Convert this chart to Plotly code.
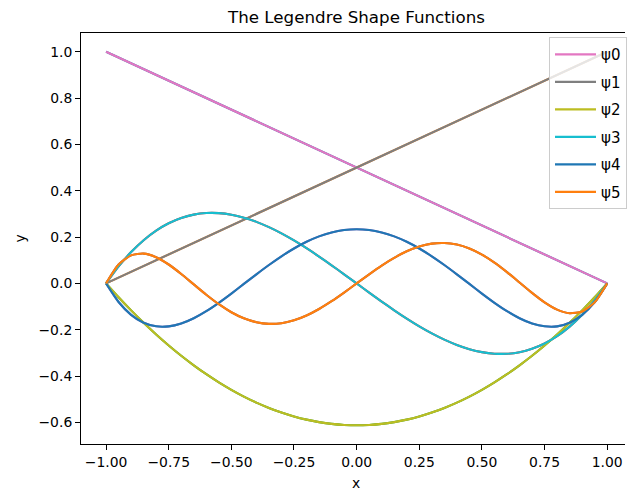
import plotly.graph_objects as go

# Sample grid on [-1, 1]
x = [-1.00, -0.95, -0.90, -0.85, -0.80, -0.75, -0.70, -0.65, -0.60, -0.55,
     -0.50, -0.45, -0.40, -0.35, -0.30, -0.25, -0.20, -0.15, -0.10, -0.05,
     0.00, 0.05, 0.10, 0.15, 0.20, 0.25, 0.30, 0.35, 0.40, 0.45,
     0.50, 0.55, 0.60, 0.65, 0.70, 0.75, 0.80, 0.85, 0.90, 0.95, 1.00]

# Linear (vertex) shape functions
x_lin = [-1.0, 1.0]
psi0 = [1.0, 0.0]
psi1 = [0.0, 1.0]

# Bubble (internal) shape functions
psi2 = [0.0, -0.0597, -0.1164, -0.1699, -0.2205, -0.2679, -0.3123, -0.3536, -0.3919, -0.4271,
        -0.4593, -0.4884, -0.5144, -0.5374, -0.5573, -0.5741, -0.5879, -0.5986, -0.6062, -0.6108,
        -0.6124, -0.6108, -0.6062, -0.5986, -0.5879, -0.5741, -0.5573, -0.5374, -0.5144, -0.4884,
        -0.4593, -0.4271, -0.3919, -0.3536, -0.3123, -0.2679, -0.2205, -0.1699, -0.1164, -0.0597, 0.0]

psi3 = [0.0, 0.0732, 0.1352, 0.1865, 0.2277, 0.2594, 0.2822, 0.2968, 0.3036, 0.3033,
        0.2965, 0.2837, 0.2656, 0.2428, 0.2158, 0.1853, 0.1518, 0.1159, 0.0783, 0.0394,
        0.0, -0.0394, -0.0783, -0.1159, -0.1518, -0.1853, -0.2158, -0.2428, -0.2656, -0.2837,
        -0.2965, -0.3033, -0.3036, -0.2968, -0.2822, -0.2594, -0.2277, -0.1865, -0.1352, -0.0732, 0.0]

psi4 = [0.0, -0.0801, -0.1355, -0.1695, -0.1852, -0.1854, -0.1729, -0.1502, -0.1197, -0.0836,
        -0.0438, -0.0023, 0.0393, 0.0795, 0.1170, 0.1507, 0.1796, 0.2029, 0.2199, 0.2304,
        0.2339, 0.2304, 0.2199, 0.2029, 0.1796, 0.1507, 0.1170, 0.0795, 0.0393, -0.0023,
        -0.0438, -0.0836, -0.1197, -0.1502, -0.1729, -0.1852, -0.1854, -0.1695, -0.1355, -0.0801, 0.0]

psi5 = [0.0, 0.0815, 0.1211, 0.1287, 0.1130, 0.0816, 0.0407, -0.0042, -0.0489, -0.0898,
        -0.1243, -0.1506, -0.1675, -0.1745, -0.1716, -0.1593, -0.1385, -0.1105, -0.0769, -0.0394,
        0.0, 0.0394, 0.0769, 0.1105, 0.1385, 0.1593, 0.1716, 0.1745, 0.1675, 0.1506,
        0.1243, 0.0898, 0.0489, 0.0042, -0.0407, -0.0816, -0.1130, -0.1287, -0.1211, -0.0815, 0.0]

labels = ["ψ0", "ψ1", "ψ2", "ψ3", "ψ4", "ψ5"]
series = [(x_lin, psi0), (x_lin, psi1), (x, psi2), (x, psi3), (x, psi4), (x, psi5)]
under_colors = ["#1f77b4", "#ff7f0e", "#2ca02c", "#d62728", "#9467bd", "#8c564b"]
colors = ["#e377c2", "#7f7f7f", "#bcbd22", "#17becf", "#1f77b4", "#ff7f0e"]

FONT = "DejaVu Sans"
fig = go.Figure()

# first pass of the curves (unlabelled), then the labelled pass on top
for (xs, ys), c in zip(series, under_colors):
    fig.add_trace(go.Scatter(x=xs, y=ys, mode="lines", showlegend=False,
                             hoverinfo="skip",
                             line=dict(color=c, width=2.1, shape="spline", smoothing=0.6)))
for i, ((xs, ys), c, lab) in enumerate(zip(series, colors, labels)):
    fig.add_trace(go.Scatter(x=xs, y=ys, mode="lines", name=lab, legendgroup=lab,
                             line=dict(color=c, width=2.1, shape="spline", smoothing=0.6)))

axis_common = dict(
    showgrid=False, zeroline=False, showline=True, linecolor="#000000", linewidth=1,
    ticks="outside", ticklen=5, tickwidth=1, tickcolor="#000000",
    tickfont=dict(family=FONT, size=13.9, color="#000000"),
)

fig.update_layout(
    width=627, height=491,
    margin=dict(l=81, r=0, t=33, b=47),
    paper_bgcolor="white", plot_bgcolor="white",
    font=dict(family=FONT, color="#000000"),
    xaxis=dict(range=[-1.1, 1.071], tickvals=[-1.0, -0.75, -0.5, -0.25, 0.0, 0.25, 0.5, 0.75, 1.0],
               tickformat=".2f", mirror=True, **axis_common),
    yaxis=dict(range=[-0.693, 1.0806], tickvals=[-0.6, -0.4, -0.2, 0.0, 0.2, 0.4, 0.6, 0.8, 1.0],
               tickformat=".1f", mirror=False, **axis_common),
    legend=dict(x=0.861, y=0.99, xanchor="left", yanchor="top",
                bgcolor="rgba(255,255,255,0.8)", bordercolor="#cccccc", borderwidth=1,
                font=dict(family=FONT, size=15, color="#000000"),
                tracegroupgap=5, itemwidth=41),
    showlegend=True,
    annotations=[
        dict(text="The Legendre Shape Functions", xref="paper", yref="paper",
             x=0.5064, y=1.0, yshift=4, xanchor="center", yanchor="bottom", showarrow=False,
             font=dict(family=FONT, size=16.7, color="#000000")),
        dict(text="x", xref="paper", yref="paper", x=0.5064, y=0, yshift=-29,
             xanchor="center", yanchor="top", showarrow=False,
             font=dict(family=FONT, size=13.9, color="#000000")),
        dict(text="y", xref="paper", yref="paper", x=0, y=0.5, xshift=-62,
             xanchor="center", yanchor="middle", textangle=-90, showarrow=False,
             font=dict(family=FONT, size=13.9, color="#000000")),
    ],
)

fig.write_html("out.html")
